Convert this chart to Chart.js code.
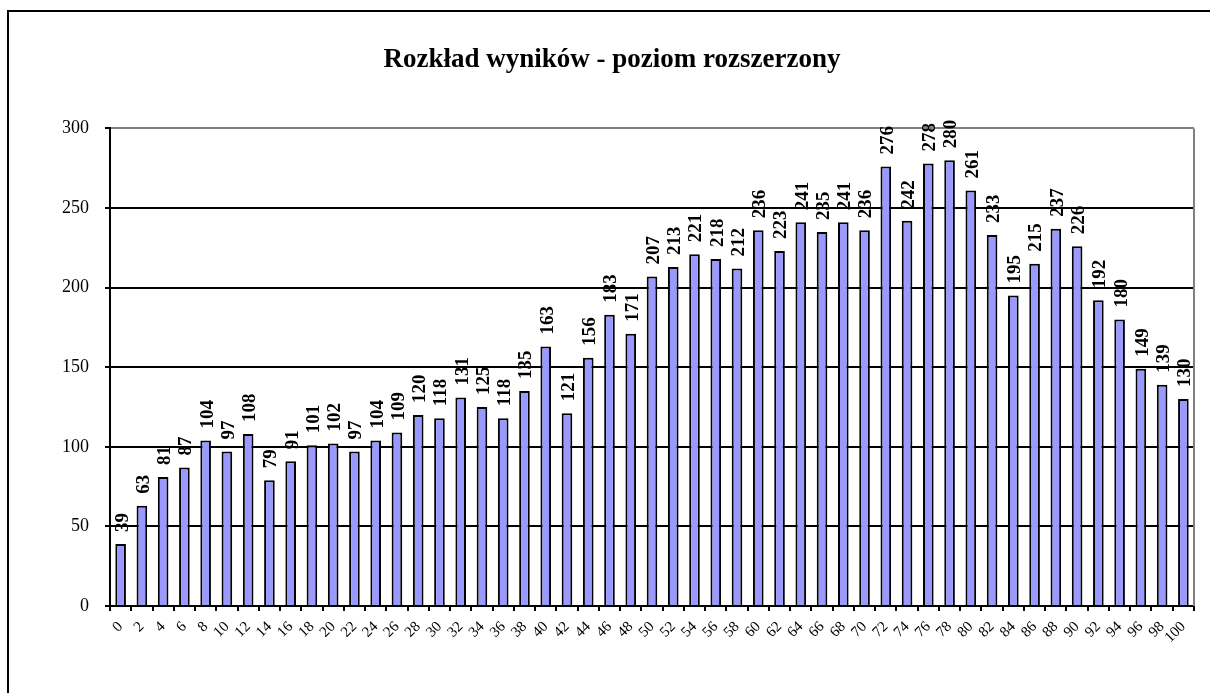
<!DOCTYPE html>
<html>
<head>
<meta charset="utf-8">
<title>Rozkład wyników - poziom rozszerzony</title>
<script src="https://cdn.jsdelivr.net/npm/chart.js@4/dist/chart.umd.min.js"></script>
<style>
  html, body { margin: 0; padding: 0; background: #fff; overflow: hidden; }
  #frame {
    position: absolute; left: 7px; top: 10px;
    width: 1300px; height: 800px;
    border: 2px solid #000; box-sizing: border-box;
  }
  #wrap { position: absolute; left: 0; top: 0; width: 1210px; height: 693px; }
</style>
</head>
<body>
<div id="frame"></div>
<div id="wrap"><canvas id="chart"></canvas></div>
<script>
// Scores (points, step 2) and how many students got them
const scores = [
  0, 2, 4, 6, 8, 10, 12, 14, 16, 18, 20, 22, 24, 26, 28, 30, 32, 34, 36, 38,
  40, 42, 44, 46, 48, 50, 52, 54, 56, 58, 60, 62, 64, 66, 68, 70, 72, 74, 76, 78,
  80, 82, 84, 86, 88, 90, 92, 94, 96, 98, 100
]
const counts = [
  39, 63, 81, 87, 104, 97, 108, 79, 91, 101, 102, 97, 104, 109, 120, 118, 131, 125, 118, 135,
  163, 121, 156, 183, 171, 207, 213, 221, 218, 212, 236, 223, 241, 235, 241, 236, 276, 242, 278, 280,
  261, 233, 195, 215, 237, 226, 192, 180, 149, 139, 130
]
const yTicks = [0, 50, 100, 150, 200, 250, 300]

const serif = "'Liberation Serif', 'Times New Roman', serif"

// draws the rotated value above every bar
const valueLabels = {
  id: "valueLabels",
  afterDatasetsDraw(chart) {
    const ctx = chart.ctx
    const meta = chart.getDatasetMeta(0)
    ctx.save()
    ctx.fillStyle = "#000"
    ctx.font = "bold 19px " + serif
    ctx.textAlign = "left"
    ctx.textBaseline = "middle"
    meta.data.forEach((bar, i) => {
      ctx.save()
      ctx.translate(bar.x + 2, bar.y - 12)
      ctx.rotate(-Math.PI / 2)
      ctx.fillText(String(chart.data.datasets[0].data[i]), 0, 0)
      ctx.restore()
    })
    ctx.restore()
  }
}

// grey right edge of the plot area
const plotEdge = {
  id: "plotEdge",
  afterDraw(chart) {
    const a = chart.chartArea
    const ctx = chart.ctx
    ctx.save()
    ctx.strokeStyle = "#808080"
    ctx.lineWidth = 2
    ctx.beginPath()
    ctx.moveTo(a.right, a.top)
    ctx.lineTo(a.right, a.bottom)
    ctx.stroke()
    ctx.restore()
  }
}

new Chart(document.getElementById("chart"), {
  type: "bar",
  plugins: [valueLabels, plotEdge],
  data: {
    labels: scores,
    datasets: [{
      data: counts,
      backgroundColor: "#9999FF",
      borderColor: "#000",
      borderWidth: 2,
      categoryPercentage: 1,
      barPercentage: 0.5
    }]
  },
  options: {
    responsive: true,
    maintainAspectRatio: false,
    animation: false,
    layout: { padding: { left: 30, right: 16, top: 0, bottom: 0 } },
    plugins: {
      legend: { display: false },
      tooltip: { enabled: false },
      title: {
        display: true,
        text: "Rozkład wyników - poziom rozszerzony",
        color: "#000",
        font: { family: serif, size: 27, weight: "bold" },
        padding: { top: 44, bottom: 52 }
      }
    },
    scales: {
      x: {
        afterFit(scale) { scale.height = 87 },
        border: { color: "#000", width: 2 },
        grid: {
          offset: true,
          drawOnChartArea: false,
          drawTicks: true,
          tickLength: 5,
          color: "#000",
          lineWidth: 2
        },
        ticks: {
          autoSkip: false,
          maxRotation: 45,
          minRotation: 45,
          padding: 7,
          color: "#000",
          font: { family: serif, size: 15 }
        }
      },
      y: {
        min: 0,
        max: 300,
        afterFit(scale) { scale.width = 80 },
        afterBuildTicks(scale) { scale.ticks = yTicks.map(v => ({ value: v })) },
        border: { color: "#000", width: 2 },
        grid: {
          tickLength: 5,
          lineWidth: 2,
          color: ctx => ctx.tick && ctx.tick.value === 300 ? "#808080" : "#000",
          tickColor: "#000"
        },
        ticks: {
          padding: 16,
          color: "#000",
          font: { family: serif, size: 18 }
        }
      }
    }
  }
})
</script>
</body>
</html>
